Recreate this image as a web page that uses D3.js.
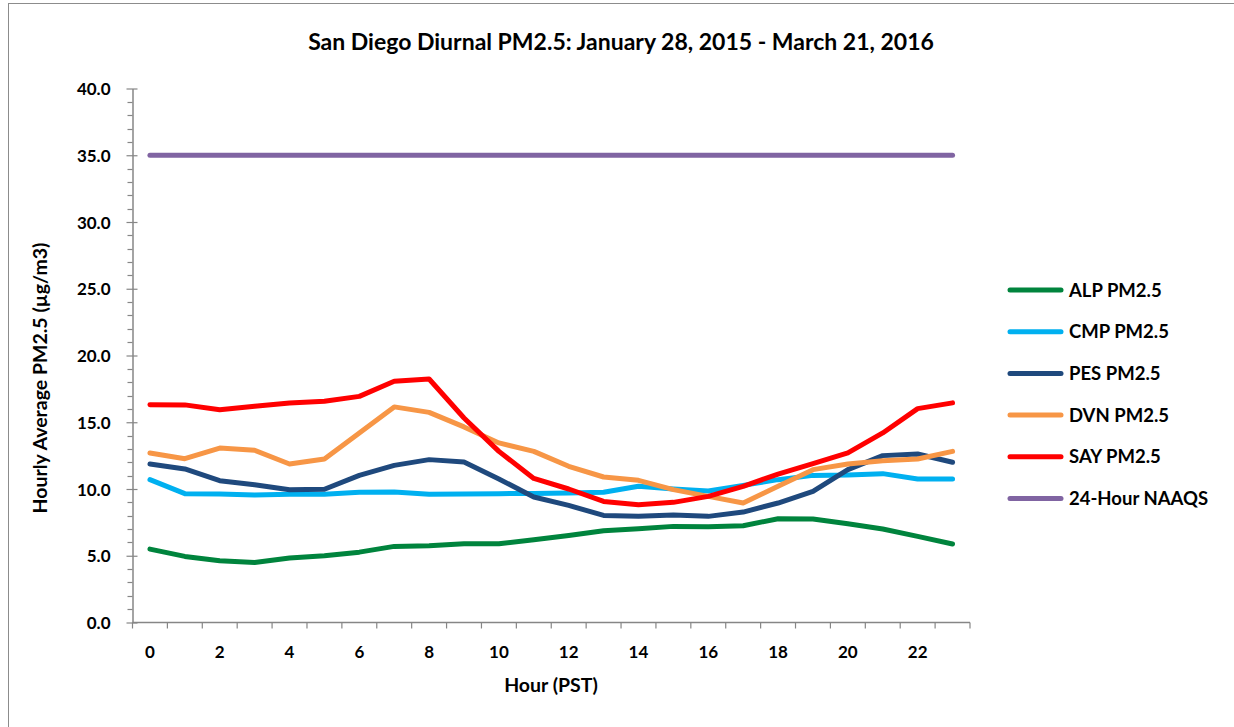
<!DOCTYPE html>
<html>
<head>
<meta charset="utf-8">
<script src="https://cdn.jsdelivr.net/npm/d3@7"></script>
<style>
  body { margin: 0; background: #fff; }
  svg { display: block; font-family: Lato, "Open Sans", sans-serif; font-weight: 700; }
</style>
</head>
<body>
<div id="chart"></div>
<script>
const width = 1234;
const height = 727;

const hours = d3.range(24);
const xTickLabels = d3.range(0, 23, 2);
const yTicks = [0, 5, 10, 15, 20, 25, 30, 35, 40];

const seriesNames = ["ALP PM2.5", "CMP PM2.5", "PES PM2.5", "DVN PM2.5", "SAY PM2.5", "24-Hour NAAQS"];
const seriesColors = ["#00843d", "#00b0f0", "#1f497d", "#f79646", "#ff0000", "#8064a2"];

const alp = [5.5, 4.95, 4.62, 4.5, 4.83, 5.0, 5.27, 5.7, 5.75, 5.9, 5.9, 6.2, 6.52, 6.87, 7.02, 7.2, 7.18, 7.25, 7.77, 7.75, 7.4, 7.0, 6.45, 5.88];
const cmp = [10.7, 9.65, 9.63, 9.55, 9.6, 9.6, 9.75, 9.78, 9.6, 9.62, 9.65, 9.67, 9.7, 9.75, 10.2, 10.0, 9.85, 10.27, 10.7, 11.02, 11.05, 11.15, 10.75, 10.75];
const pes = [11.87, 11.5, 10.62, 10.32, 9.95, 9.98, 11.02, 11.77, 12.2, 12.02, 10.75, 9.4, 8.77, 8.02, 7.95, 8.05, 7.95, 8.27, 8.95, 9.82, 11.45, 12.5, 12.62, 12.0];
const dvn = [12.7, 12.27, 13.07, 12.9, 11.87, 12.25, 14.2, 16.15, 15.74, 14.65, 13.45, 12.82, 11.7, 10.9, 10.65, 9.95, 9.45, 8.95, 10.2, 11.45, 11.87, 12.12, 12.25, 12.82];
const say = [16.32, 16.3, 15.94, 16.2, 16.45, 16.57, 16.94, 18.07, 18.24, 15.32, 12.82, 10.79, 10.0, 9.07, 8.82, 9.0, 9.45, 10.2, 11.12, 11.9, 12.7, 14.2, 16.02, 16.45];
const naaqs = [35, 35, 35, 35, 35, 35, 35, 35, 35, 35, 35, 35, 35, 35, 35, 35, 35, 35, 35, 35, 35, 35, 35, 35];

const seriesValues = [alp, cmp, pes, dvn, say, naaqs];

const margin = { left: 132.5, right: 970, top: 88.5, bottom: 622.5 };
const axisColor = "#868686";

const svg = d3.select("#chart").append("svg")
    .attr("width", width)
    .attr("height", height);

// chart frame
svg.append("rect")
    .attr("x", 8.5).attr("y", 3.5)
    .attr("width", 1240).attr("height", 740)
    .attr("fill", "none")
    .attr("stroke", "#8c8c8c");

const x = d3.scaleBand()
    .domain(hours)
    .range([margin.left, margin.right]);

const y = d3.scaleLinear()
    .domain([0, 40])
    .range([margin.bottom, margin.top]);

// y axis
const yAxis = d3.axisLeft(y)
    .tickValues(yTicks)
    .tickSizeInner(6)
    .tickSizeOuter(0)
    .tickFormat(d3.format(".1f"));

const gy = svg.append("g")
    .attr("transform", `translate(${margin.left},0)`)
    .call(yAxis);

// minor ticks every 1.0
svg.append("g")
    .selectAll("line")
    .data(d3.range(0, 41).filter(v => v % 5 !== 0))
    .join("line")
    .attr("x1", margin.left - 5).attr("x2", margin.left)
    .attr("y1", d => Math.round(y(d)) + 0.5).attr("y2", d => Math.round(y(d)) + 0.5)
    .attr("stroke", axisColor)
    .attr("stroke-width", 1.2);

// x axis
const gx = svg.append("g")
    .attr("transform", `translate(0,${margin.bottom})`);

gx.append("line")
    .attr("x1", margin.left).attr("x2", margin.right)
    .attr("stroke", axisColor).attr("stroke-width", 1.5);

gx.selectAll(".tk")
    .data(d3.range(25))
    .join("line")
    .attr("class", "tk")
    .attr("x1", i => margin.left + i * x.step()).attr("x2", i => margin.left + i * x.step())
    .attr("y1", 0).attr("y2", 6)
    .attr("stroke", axisColor).attr("stroke-width", 1.2);

gx.selectAll(".lbl")
    .data(xTickLabels)
    .join("text")
    .attr("class", "lbl")
    .attr("x", d => x(d) + x.bandwidth() / 2)
    .attr("y", 35)
    .attr("text-anchor", "middle")
    .style("font-size", "17px")
    .text(d => d);

gy.select(".domain").attr("stroke", axisColor).attr("stroke-width", 1.5);
gy.selectAll(".tick line")
    .attr("x1", 5)
    .attr("stroke", axisColor).attr("stroke-width", 1.2);
gy.selectAll(".tick text")
    .attr("x", -22)
    .attr("dy", "0.36em")
    .style("font-size", "17px")
    .style("font-family", "Lato, sans-serif")
    .style("font-weight", 700)
    .attr("fill", "#000");

// lines
const line = d3.line()
    .x((d, i) => x(hours[i]) + x.bandwidth() / 2)
    .y(d => y(d));

svg.append("g")
    .selectAll("path")
    .data(seriesValues)
    .join("path")
    .attr("d", line)
    .attr("fill", "none")
    .attr("stroke", (d, i) => seriesColors[i])
    .attr("stroke-width", 5)
    .attr("stroke-linejoin", "round")
    .attr("stroke-linecap", "round");

// titles
svg.append("text")
    .attr("x", 621).attr("y", 50)
    .attr("text-anchor", "middle")
    .style("font-size", "23px")
    .text("San Diego Diurnal PM2.5: January 28, 2015 - March 21, 2016");

svg.append("text")
    .attr("x", 551).attr("y", 692)
    .attr("text-anchor", "middle")
    .style("font-size", "19.5px")
    .text("Hour (PST)");

svg.append("text")
    .attr("transform", "translate(47,378) rotate(-90)")
    .attr("text-anchor", "middle")
    .style("font-size", "19.5px")
    .text("Hourly Average PM2.5 (µg/m3)");

// legend
const legend = svg.append("g")
    .selectAll("g")
    .data(seriesNames)
    .join("g")
    .attr("transform", (d, i) => `translate(1010,${290 + i * 41.7})`);

legend.append("line")
    .attr("x1", 0).attr("x2", 51)
    .attr("stroke", (d, i) => seriesColors[i])
    .attr("stroke-width", 5)
    .attr("stroke-linecap", "round");

legend.append("text")
    .attr("x", 59)
    .attr("dy", "0.36em")
    .style("font-size", "18.5px")
    .text(d => d);
</script>
</body>
</html>
